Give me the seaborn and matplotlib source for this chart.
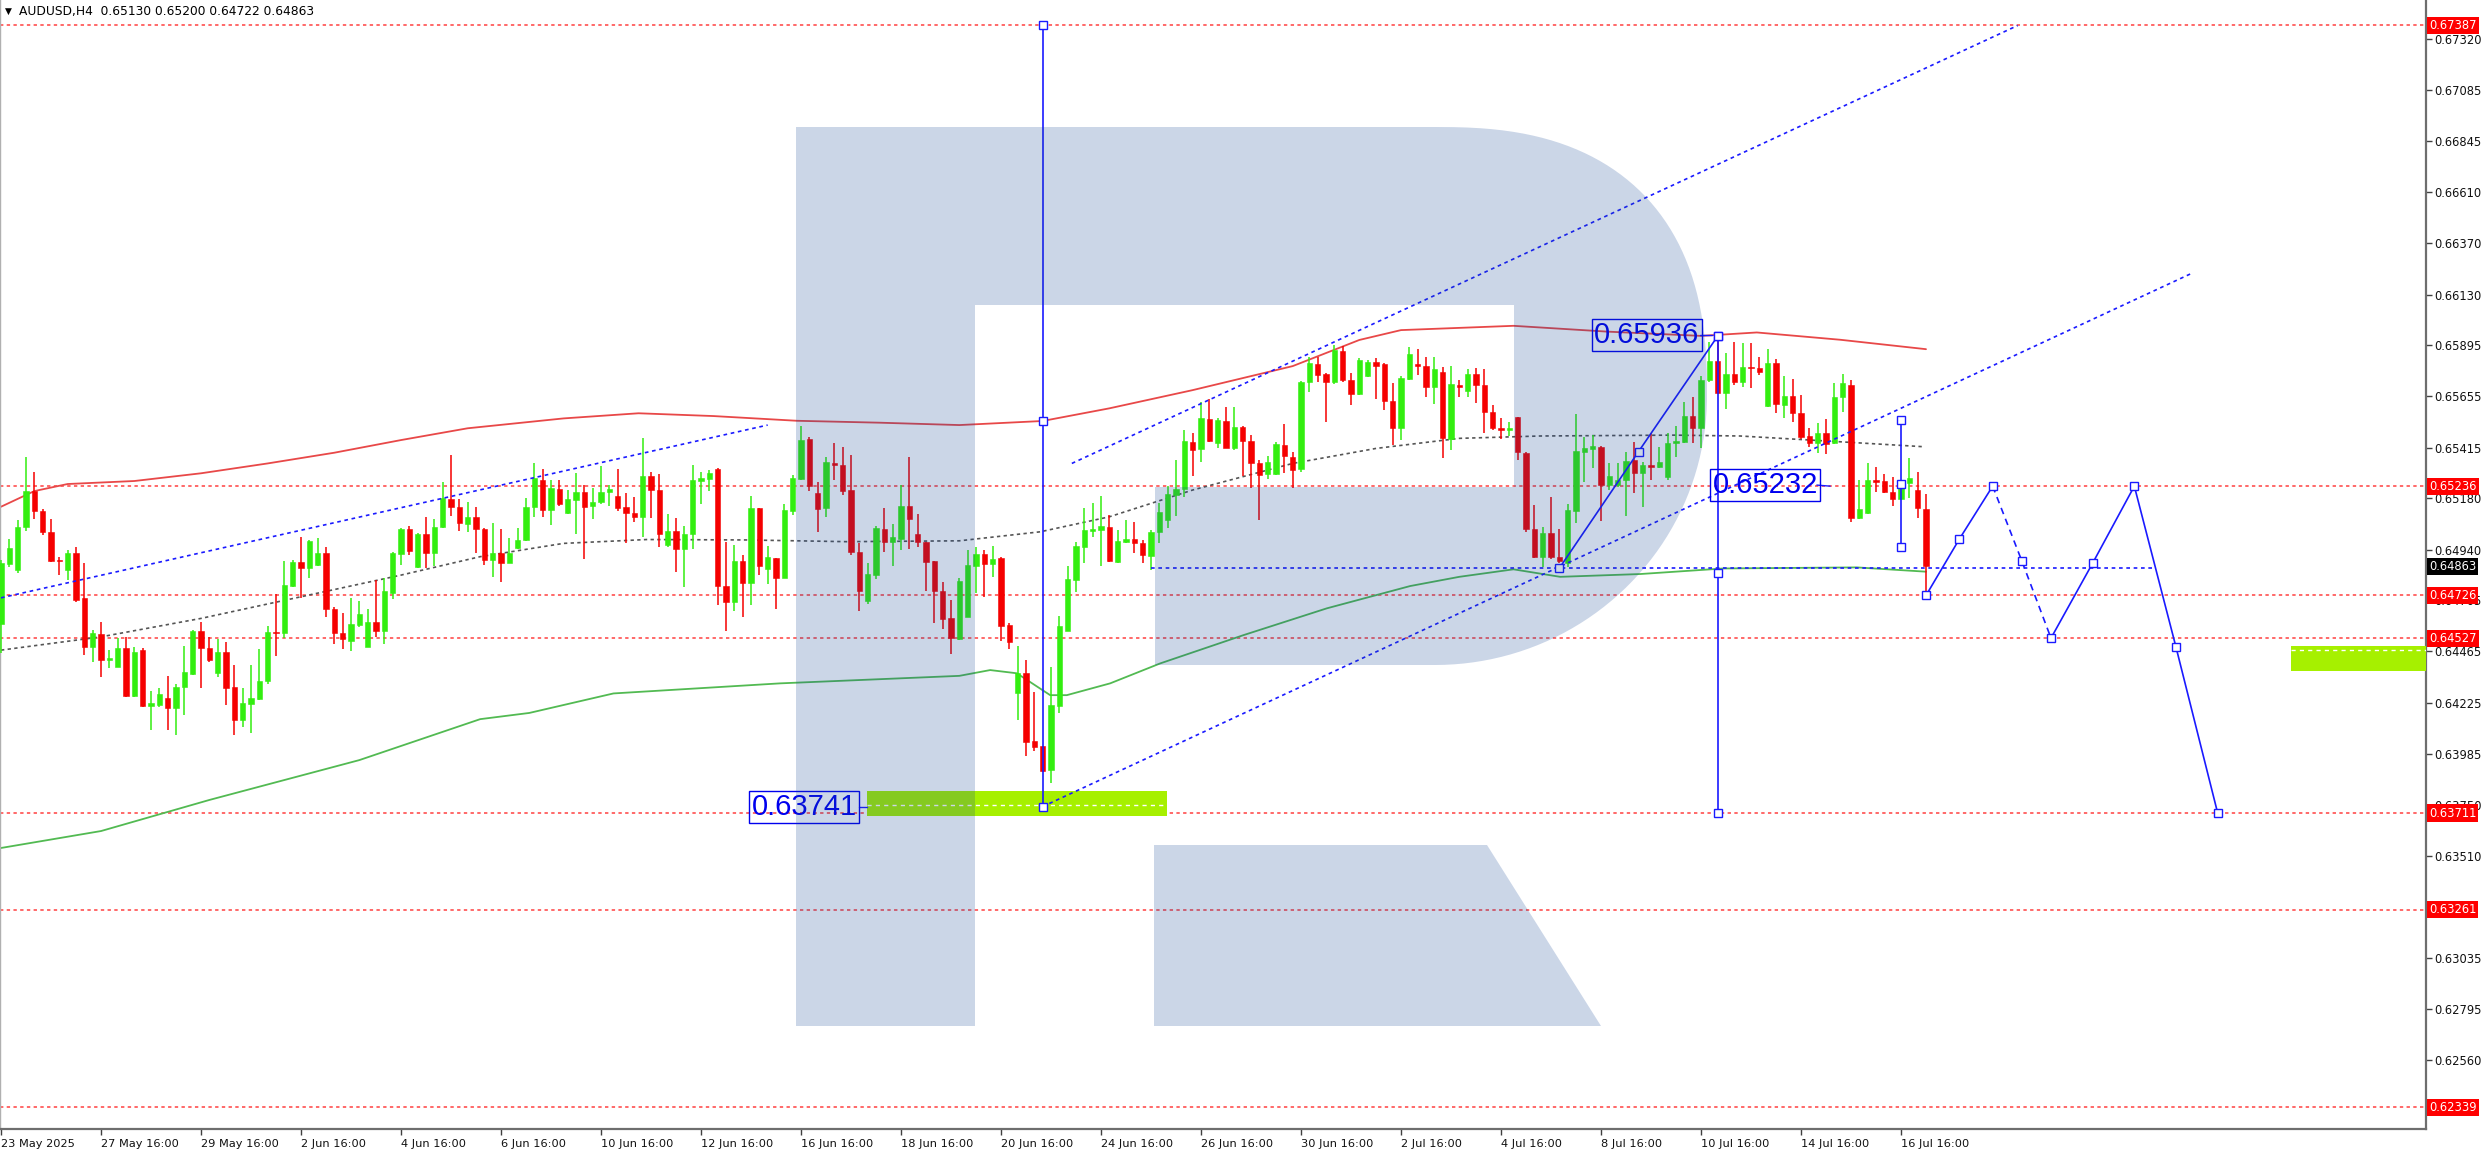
import matplotlib
matplotlib.use("Agg")
import matplotlib.pyplot as plt
import matplotlib.transforms as mtransforms
from matplotlib.patches import Rectangle, Polygon
import numpy as np
import seaborn as sns

# ---------------- data ----------------
symbol = "AUDUSD,H4"
last_ohlc = [0.65130, 0.65200, 0.64722, 0.64863]

opens = [0.64593, 0.64871, 0.64845, 0.65044, 0.65213, 0.65120, 0.65023, 0.64891, 0.64845, 0.64922,
         0.64712, 0.64487, 0.64546, 0.64425, 0.64394, 0.64482, 0.64257, 0.64471, 0.64210, 0.64213,
         0.64246, 0.64199, 0.64297, 0.64359, 0.64560, 0.64482, 0.64363, 0.64461, 0.64300, 0.64145,
         0.64219, 0.64243, 0.64327, 0.64557, 0.64549, 0.64772, 0.64883, 0.64855, 0.64868, 0.64925,
         0.64662, 0.64549, 0.64515, 0.64588, 0.64487, 0.64600, 0.64560, 0.64739, 0.64918, 0.65034,
         0.64860, 0.65013, 0.64925, 0.65047, 0.65174, 0.65140, 0.65058, 0.65093, 0.65034, 0.64891,
         0.64925, 0.64879, 0.64946, 0.64985, 0.65137, 0.65264, 0.65124, 0.65221, 0.65112, 0.65171,
         0.65207, 0.65143, 0.65163, 0.65207, 0.65191, 0.65137, 0.65109, 0.65093, 0.65285, 0.65218,
         0.64961, 0.65028, 0.64941, 0.65011, 0.65260, 0.65269, 0.65316, 0.64770, 0.64697, 0.64887,
         0.64785, 0.65132, 0.64848, 0.64899, 0.64809, 0.65120, 0.65269, 0.65456, 0.65202, 0.65132,
         0.65345, 0.65334, 0.65218, 0.64930, 0.64700, 0.64821, 0.65034, 0.64974, 0.64988, 0.65143,
         0.65013, 0.64974, 0.64887, 0.64747, 0.64619, 0.64523, 0.64627, 0.64865, 0.64918, 0.64871,
         0.64899, 0.64588, 0.64269, 0.64363, 0.64047, 0.64024, 0.63912, 0.64210, 0.64562, 0.64798,
         0.64950, 0.65025, 0.65031, 0.65047, 0.64883, 0.64977, 0.64989, 0.64969, 0.64910, 0.65020,
         0.65078, 0.65195, 0.65221, 0.65440, 0.65408, 0.65547, 0.65439, 0.65540, 0.65415, 0.65510,
         0.65446, 0.65345, 0.65292, 0.65292, 0.65428, 0.65373, 0.65314, 0.65720, 0.65804, 0.65757,
         0.65723, 0.65868, 0.65731, 0.65666, 0.65751, 0.65813, 0.65804, 0.65635, 0.65506, 0.65736,
         0.65806, 0.65798, 0.65697, 0.65770, 0.65454, 0.65708, 0.65681, 0.65759, 0.65708, 0.65580,
         0.65505, 0.65498, 0.65557, 0.65392, 0.65037, 0.64907, 0.65019, 0.64907, 0.64876, 0.65121,
         0.65397, 0.65407, 0.65420, 0.65241, 0.65241, 0.65264, 0.65358, 0.65299, 0.65334, 0.65327,
         0.65280, 0.65435, 0.65443, 0.65563, 0.65509, 0.65731, 0.65820, 0.65669, 0.65759, 0.65723,
         0.65793, 0.65785, 0.65610, 0.65812, 0.65614, 0.65656, 0.65575, 0.65470, 0.65439, 0.65485,
         0.65435, 0.65653, 0.65708, 0.65086, 0.65109, 0.65264, 0.65261, 0.65210, 0.65176, 0.65249,
         0.65218, 0.65130]

highs = [0.64891, 0.64989, 0.65078, 0.65373, 0.65303, 0.65128, 0.65081, 0.64907, 0.64938, 0.64950,
         0.64876, 0.64565, 0.64604, 0.64471, 0.64526, 0.64530, 0.64487, 0.64482, 0.64282, 0.64293,
         0.64350, 0.64313, 0.64492, 0.64565, 0.64602, 0.64534, 0.64521, 0.64507, 0.64401, 0.64293,
         0.64401, 0.64476, 0.64583, 0.64733, 0.64888, 0.64891, 0.64997, 0.64984, 0.64992, 0.64950,
         0.64674, 0.64642, 0.64716, 0.64702, 0.64661, 0.64798, 0.64806, 0.64930, 0.65042, 0.65050,
         0.65016, 0.65093, 0.65083, 0.65257, 0.65381, 0.65174, 0.65163, 0.65137, 0.65039, 0.65062,
         0.65034, 0.64992, 0.65039, 0.65179, 0.65342, 0.65314, 0.65264, 0.65264, 0.65218, 0.65296,
         0.65241, 0.65226, 0.65330, 0.65241, 0.65314, 0.65202, 0.65184, 0.65459, 0.65303, 0.65292,
         0.65106, 0.65086, 0.65050, 0.65334, 0.65303, 0.65311, 0.65323, 0.64974, 0.64961, 0.64914,
         0.65190, 0.65135, 0.64957, 0.64902, 0.65152, 0.65288, 0.65516, 0.65467, 0.65257, 0.65373,
         0.65435, 0.65420, 0.65381, 0.64972, 0.64876, 0.65050, 0.65132, 0.65059, 0.65241, 0.65370,
         0.65106, 0.64977, 0.64888, 0.64790, 0.64705, 0.64806, 0.64938, 0.64953, 0.64938, 0.64957,
         0.64907, 0.64599, 0.64490, 0.64425, 0.64277, 0.64024, 0.64394, 0.64632, 0.64863, 0.64977,
         0.65135, 0.65159, 0.65191, 0.65101, 0.65031, 0.65078, 0.65070, 0.64985, 0.65031, 0.65156,
         0.65236, 0.65358, 0.65498, 0.65482, 0.65630, 0.65641, 0.65552, 0.65607, 0.65607, 0.65516,
         0.65474, 0.65358, 0.65376, 0.65443, 0.65524, 0.65397, 0.65726, 0.65840, 0.65837, 0.65762,
         0.65894, 0.65890, 0.65762, 0.65832, 0.65824, 0.65832, 0.65809, 0.65715, 0.65750, 0.65886,
         0.65874, 0.65840, 0.65840, 0.65793, 0.65796, 0.65731, 0.65781, 0.65785, 0.65781, 0.65614,
         0.65552, 0.65537, 0.65560, 0.65397, 0.65148, 0.65044, 0.65184, 0.65034, 0.65152, 0.65571,
         0.65467, 0.65474, 0.65423, 0.65342, 0.65345, 0.65397, 0.65443, 0.65350, 0.65482, 0.65420,
         0.65482, 0.65516, 0.65630, 0.65653, 0.65750, 0.65910, 0.65936, 0.65855, 0.65910, 0.65902,
         0.65905, 0.65840, 0.65874, 0.65827, 0.65750, 0.65734, 0.65661, 0.65505, 0.65532, 0.65547,
         0.65715, 0.65759, 0.65731, 0.65264, 0.65342, 0.65327, 0.65295, 0.65280, 0.65257, 0.65366,
         0.65303, 0.65200]

lows = [0.64456, 0.64860, 0.64829, 0.65027, 0.65083, 0.65008, 0.64883, 0.64821, 0.64798, 0.64697,
        0.64448, 0.64417, 0.64347, 0.64386, 0.64390, 0.64251, 0.64251, 0.64204, 0.64098, 0.64207,
        0.64098, 0.64075, 0.64168, 0.64355, 0.64296, 0.64417, 0.64347, 0.64215, 0.64075, 0.64111,
        0.64083, 0.64238, 0.64313, 0.64443, 0.64526, 0.64767, 0.64716, 0.64809, 0.64865, 0.64627,
        0.64499, 0.64475, 0.64468, 0.64580, 0.64484, 0.64530, 0.64499, 0.64709, 0.64868, 0.64915,
        0.64852, 0.64852, 0.64863, 0.65042, 0.65098, 0.65027, 0.65023, 0.64922, 0.64868, 0.64813,
        0.64790, 0.64876, 0.64941, 0.64981, 0.65090, 0.65093, 0.65055, 0.65145, 0.65106, 0.65013,
        0.64894, 0.65081, 0.65152, 0.65145, 0.65121, 0.64969, 0.65070, 0.65000, 0.65086, 0.64953,
        0.64953, 0.64834, 0.64767, 0.64941, 0.65155, 0.65215, 0.64681, 0.64561, 0.64655, 0.64624,
        0.64681, 0.64821, 0.64778, 0.64661, 0.64806, 0.65101, 0.65264, 0.65215, 0.65020, 0.65093,
        0.65264, 0.65194, 0.64914, 0.64655, 0.64686, 0.64803, 0.64927, 0.64863, 0.64938, 0.64941,
        0.64953, 0.64748, 0.64599, 0.64568, 0.64453, 0.64518, 0.64624, 0.64736, 0.64720, 0.64810,
        0.64515, 0.64476, 0.64145, 0.63977, 0.64002, 0.63904, 0.63849, 0.64176, 0.64558, 0.64744,
        0.64876, 0.65000, 0.64863, 0.64880, 0.64876, 0.64972, 0.64925, 0.64879, 0.64845, 0.64972,
        0.65039, 0.65098, 0.65187, 0.65283, 0.65350, 0.65443, 0.65412, 0.65412, 0.65404, 0.65285,
        0.65226, 0.65078, 0.65268, 0.65288, 0.65296, 0.65226, 0.65303, 0.65677, 0.65723, 0.65537,
        0.65712, 0.65720, 0.65614, 0.65661, 0.65747, 0.65642, 0.65591, 0.65428, 0.65451, 0.65731,
        0.65754, 0.65653, 0.65619, 0.65366, 0.65404, 0.65653, 0.65653, 0.65625, 0.65482, 0.65498,
        0.65454, 0.65470, 0.65358, 0.65023, 0.64902, 0.64860, 0.64894, 0.64876, 0.64860, 0.65062,
        0.65257, 0.65319, 0.65075, 0.65218, 0.65233, 0.65096, 0.65202, 0.65137, 0.65264, 0.65319,
        0.65264, 0.65373, 0.65435, 0.65438, 0.65415, 0.65723, 0.65666, 0.65594, 0.65708, 0.65697,
        0.65692, 0.65754, 0.65606, 0.65575, 0.65552, 0.65537, 0.65454, 0.65420, 0.65389, 0.65386,
        0.65432, 0.65580, 0.65070, 0.65081, 0.65106, 0.65210, 0.65205, 0.65143, 0.65171, 0.65179,
        0.65086, 0.64722]

closes = [0.64876, 0.64949, 0.65047, 0.65213, 0.65120, 0.65020, 0.64888, 0.64885, 0.64922, 0.64705,
          0.64487, 0.64549, 0.64425, 0.64436, 0.64482, 0.64257, 0.64464, 0.64210, 0.64223, 0.64266,
          0.64199, 0.64300, 0.64367, 0.64560, 0.64482, 0.64425, 0.64461, 0.64296, 0.64145, 0.64223,
          0.64246, 0.64327, 0.64557, 0.64549, 0.64775, 0.64883, 0.64855, 0.64980, 0.64925, 0.64661,
          0.64549, 0.64521, 0.64591, 0.64639, 0.64604, 0.64560, 0.64747, 0.64922, 0.65034, 0.64935,
          0.65013, 0.64925, 0.65047, 0.65179, 0.65140, 0.65062, 0.65093, 0.65034, 0.64891, 0.64925,
          0.64879, 0.64922, 0.64985, 0.65140, 0.65272, 0.65124, 0.65226, 0.65152, 0.65174, 0.65207,
          0.65140, 0.65163, 0.65207, 0.65222, 0.65132, 0.65109, 0.65093, 0.65285, 0.65218, 0.65013,
          0.65028, 0.64943, 0.65011, 0.65264, 0.65275, 0.65296, 0.64770, 0.64697, 0.64887, 0.64785,
          0.65132, 0.64865, 0.64907, 0.64809, 0.65124, 0.65272, 0.65451, 0.65236, 0.65129, 0.65350,
          0.65334, 0.65215, 0.64927, 0.64748, 0.64826, 0.65039, 0.64974, 0.64997, 0.65143, 0.65082,
          0.64974, 0.64883, 0.64748, 0.64616, 0.64526, 0.64795, 0.64868, 0.64918, 0.64871, 0.64894,
          0.64583, 0.64510, 0.64363, 0.64044, 0.64017, 0.63909, 0.64215, 0.64583, 0.64801, 0.64957,
          0.65031, 0.65036, 0.65051, 0.64888, 0.64981, 0.64989, 0.64969, 0.64915, 0.65023, 0.65117,
          0.65199, 0.65221, 0.65446, 0.65404, 0.65552, 0.65448, 0.65544, 0.65415, 0.65510, 0.65448,
          0.65342, 0.65288, 0.65347, 0.65432, 0.65376, 0.65311, 0.65723, 0.65812, 0.65754, 0.65723,
          0.65871, 0.65731, 0.65666, 0.65824, 0.65817, 0.65798, 0.65633, 0.65506, 0.65739, 0.65851,
          0.65796, 0.65697, 0.65781, 0.65459, 0.65712, 0.65700, 0.65759, 0.65708, 0.65580, 0.65505,
          0.65498, 0.65509, 0.65397, 0.65034, 0.64907, 0.65019, 0.64904, 0.64888, 0.65124, 0.65401,
          0.65412, 0.65423, 0.65241, 0.65285, 0.65264, 0.65355, 0.65299, 0.65334, 0.65327, 0.65347,
          0.65435, 0.65448, 0.65563, 0.65509, 0.65731, 0.65820, 0.65669, 0.65759, 0.65723, 0.65790,
          0.65788, 0.65770, 0.65812, 0.65619, 0.65658, 0.65575, 0.65467, 0.65439, 0.65485, 0.65432,
          0.65653, 0.65715, 0.65086, 0.65129, 0.65264, 0.65257, 0.65210, 0.65174, 0.65249, 0.65272,
          0.65132, 0.64863]

x_tick_labels = ["23 May 2025", "27 May 16:00", "29 May 16:00", "2 Jun 16:00", "4 Jun 16:00",
                 "6 Jun 16:00", "10 Jun 16:00", "12 Jun 16:00", "16 Jun 16:00", "18 Jun 16:00",
                 "20 Jun 16:00", "24 Jun 16:00", "26 Jun 16:00", "30 Jun 16:00", "2 Jul 16:00",
                 "4 Jul 16:00", "8 Jul 16:00", "10 Jul 16:00", "14 Jul 16:00", "16 Jul 16:00"]
x_tick_bars = [0, 12, 24, 36, 48, 60, 72, 84, 96, 108, 120, 132, 144, 156, 168, 180, 192, 204, 216, 228]

y_ticks = [0.67320, 0.67085, 0.66845, 0.66610, 0.66370, 0.66130, 0.65895, 0.65655, 0.65415,
           0.65180, 0.64940, 0.64705, 0.64465, 0.64225, 0.63985, 0.63750, 0.63510, 0.63035,
           0.62795, 0.62560]

levels = [0.67387, 0.65236, 0.64726, 0.64527, 0.63711, 0.63261, 0.62339]
current_price = 0.64863

red_ma_bars = [0, 4, 8, 16, 24, 32, 40, 48, 56, 67.5, 76.5, 85.5, 95.5, 105.5, 115, 125, 133,
               143, 155, 163, 168, 172.7, 181.5, 192.7, 204, 210.7, 220.7, 231]
red_ma_vals = [0.65140, 0.65213, 0.65246, 0.65260, 0.65296, 0.65342, 0.65392, 0.65451, 0.65506,
               0.65552, 0.65576, 0.65563, 0.65541, 0.65532, 0.65521, 0.65540, 0.65599, 0.65684,
               0.65796, 0.65918, 0.65964, 0.65971, 0.65984, 0.65957, 0.65937, 0.65953, 0.65919,
               0.65875]

green_ma_bars = [0, 12, 25, 43, 57.5, 63.4, 73.5, 93.5, 115, 118.7, 121.9, 125.9, 127.9, 133.1,
                 139.1, 149.1, 159.1, 169.1, 175, 181.5, 187.1, 196.7, 206.7, 222.7, 231]
green_ma_vals = [0.63548, 0.63627, 0.63772, 0.63958, 0.64149, 0.64178, 0.64269, 0.64316, 0.64351,
                 0.64378, 0.64363, 0.64261, 0.64261, 0.64316, 0.64409, 0.64541, 0.64666, 0.64770,
                 0.64813, 0.64848, 0.64813, 0.64826, 0.64852, 0.64857, 0.64837]

mid_ma_bars = [0, 12, 24, 36, 48, 57.5, 67.5, 77.5, 89.5, 101.5, 115, 124.7, 133, 143, 155, 165,
               175, 184.7, 200.7, 208.7, 220.7, 230.7]
mid_ma_vals = [0.64471, 0.64533, 0.64619, 0.64720, 0.64821, 0.64907, 0.64969, 0.64987, 0.64985,
               0.64977, 0.64981, 0.65023, 0.65093, 0.65218, 0.65342, 0.65412, 0.65459, 0.65470,
               0.65474, 0.65470, 0.65443, 0.65420]

# hand-drawn analysis objects
channel_a_bars, channel_a_vals = [0, 92], [0.64715, 0.65521]
channel_b_bars, channel_b_vals = [128.5, 242], [0.65342, 0.67385]
channel_c_bars, channel_c_vals = [125, 263], [0.63741, 0.66231]
flat_bars, flat_vals = [138, 258.6], [0.64855, 0.64855]
swing_bars, swing_vals = [187, 196.5, 206], [0.64853, 0.65397, 0.65936]
forecast_bars = [231, 235, 239, 242.5, 246, 251, 256, 261, 266]
forecast_vals = [0.64726, 0.64989, 0.65236, 0.64887, 0.64527, 0.64877, 0.65236, 0.64485, 0.63711]
vline1_bar, vline1_vals = 125, [0.67387, 0.65540, 0.63741]
vline2_bar, vline2_vals = 206, [0.65936, 0.64829, 0.63711]
vline3_bar, vline3_vals = 228, [0.65544, 0.65246, 0.64950]

tag_texts = ["0.65936", "0.65232", "0.63741"]
tag_bars = [197.5, 211.7, 96.4]
tag_vals = [0.65941, 0.65241, 0.63739]

zone_bars = [[103.9, 139.9], [274.8, 291.5]]
zone_vals = [[0.63698, 0.63814], [0.64373, 0.64490]]
zone_marks = [0.63750, 0.64470]

# ---------------- style ----------------
sns.set_theme(style="white")
plt.rcParams["font.family"] = ["DejaVu Sans"]

W, H = 2486, 1152
AX_W, AX_H, AX_B = 2426, 1129, 23
fig = plt.figure(figsize=(W / 100, H / 100), dpi=100)
fig.patch.set_facecolor("white")
ax = fig.add_axes([0, AX_B / H, AX_W / W, AX_H / H])
ax.set_facecolor("white")
ax.set_xlim(-0.12, 291.0)
ax.set_ylim(0.62237, 0.67504)

BLUE = "#1a1aff"
BULL = "#33ee10"
BEAR = "#f50000"

# horizontal levels
for lv in levels:
    ax.axhline(lv, color="#ff4040", lw=1.1, ls=(0, (2.2, 2.2)), zorder=1)

# moving averages
sns.lineplot(x=red_ma_bars, y=red_ma_vals, ax=ax, color="#e84848", lw=1.3, zorder=2,
             estimator=None, sort=False)
sns.lineplot(x=green_ma_bars, y=green_ma_vals, ax=ax, color="#52ba52", lw=1.3, zorder=2,
             estimator=None, sort=False)
ax.plot(mid_ma_bars, mid_ma_vals, color="#555555", lw=1.2, ls=(0, (2, 2)), zorder=2)

# candles
o = np.array(opens); h = np.array(highs); l = np.array(lows); c = np.array(closes)
xb = np.arange(len(o))
up = c >= o
cols = np.where(up, BULL, BEAR)
ax.vlines(xb, l, h, colors=cols, lw=1.1, zorder=3)
body_lo = np.minimum(o, c)
body_h = np.maximum(np.abs(c - o), 0.00003)
ax.bar(xb, body_h, bottom=body_lo, width=0.62, color=cols, edgecolor=cols, lw=0.4, zorder=3)

# analysis drawings
dot = (0, (2.2, 2.2))
ax.plot(channel_a_bars, channel_a_vals, color=BLUE, lw=1.2, ls=dot, zorder=4)
ax.plot(channel_b_bars, channel_b_vals, color=BLUE, lw=1.2, ls=dot, zorder=4)
ax.plot(channel_c_bars, channel_c_vals, color=BLUE, lw=1.2, ls=dot, zorder=4)
ax.plot(flat_bars, flat_vals, color=BLUE, lw=1.2, ls=dot, zorder=4)
ax.plot(swing_bars, swing_vals, color=BLUE, lw=1.2, zorder=4)

fb, fv = forecast_bars, forecast_vals
ax.plot(fb[0:3], fv[0:3], color=BLUE, lw=1.2, zorder=4)
ax.plot(fb[2:5], fv[2:5], color=BLUE, lw=1.2, ls=(0, (4, 3)), zorder=4)
ax.plot(fb[4:9], fv[4:9], color=BLUE, lw=1.2, zorder=4)

for vb, vv in [(vline1_bar, vline1_vals), (vline2_bar, vline2_vals), (vline3_bar, vline3_vals)]:
    ax.plot([vb, vb], [max(vv), min(vv)], color=BLUE, lw=1.2, zorder=4)
    ax.plot([vb] * len(vv), vv, ls="none", marker="s", ms=5.5, mfc="white", mec=BLUE, mew=1.0,
            zorder=4.5)

ax.plot(fb, fv, ls="none", marker="s", ms=5.5, mfc="white", mec=BLUE, mew=1.0, zorder=4.5)
ax.plot(swing_bars, swing_vals, ls="none", marker="s", ms=5.5, mfc="white", mec=BLUE, mew=1.0,
        zorder=4.5)

# green zones
for (b0, b1), (v0, v1), mv in zip(zone_bars, zone_vals, zone_marks):
    ax.add_patch(Rectangle((b0, v0), b1 - b0, v1 - v0, facecolor="#a6f000", edgecolor="none",
                           zorder=3.5))
    ax.plot([b0, b1], [mv, mv], color="white", lw=1.0, ls=(0, (3, 3)), zorder=3.6)

# price tags
for t, b, v in zip(tag_texts, tag_bars, tag_vals):
    ax.text(b, v, t, ha="center", va="center", fontsize=21, color="#0000ee",
            family=["Liberation Sans", "DejaVu Sans"], zorder=4.6,
            bbox=dict(boxstyle="square,pad=0.08", fc="none", ec="#0000ee", lw=1.0))
ax.plot([203.9, 205.3], [0.65941, 0.65941], color=BLUE, lw=1.0, zorder=4)
ax.plot([217.9, 219.5], [0.65241, 0.65236], color=BLUE, lw=1.0, zorder=4)
ax.plot([102.9, 103.9], [0.63739, 0.63739], color=BLUE, lw=1.0, zorder=4)

# watermark logo (translucent overlay, placed in axes-pixel layout)
def apx(x, y):
    return (x / AX_W, (AX_H - y) / AX_H)

cx, cy, ra, rb = 1435, 396, 272, 269
pts = [apx(796, 127)]
for t in np.linspace(np.pi / 2, -np.pi / 2, 90):
    n = 2.5 if t > 0 else 2.0
    ct, st = np.cos(t), np.sin(t)
    xx = cx + ra * np.sign(ct) * abs(ct) ** (2 / n)
    yy = cy - rb * np.sign(st) * abs(st) ** (2 / n)
    pts.append(apx(xx, yy))
pts += [apx(1155, 665), apx(1155, 487), apx(1514, 487), apx(1514, 305), apx(975, 305),
        apx(975, 1026), apx(796, 1026)]
ax.add_patch(Polygon(pts, closed=True, transform=ax.transAxes, facecolor="#134596",
                     edgecolor="none", alpha=0.22, zorder=6))
leg = [apx(1154, 845), apx(1487, 845), apx(1601, 1026), apx(1154, 1026)]
ax.add_patch(Polygon(leg, closed=True, transform=ax.transAxes, facecolor="#134596",
                     edgecolor="none", alpha=0.22, zorder=6))

# axes look
ax.spines["top"].set_visible(False)
ax.spines["left"].set_color("#b0b0b0"); ax.spines["left"].set_linewidth(1.0)
ax.spines["right"].set_color("#6e6e6e"); ax.spines["right"].set_linewidth(1.6)
ax.spines["bottom"].set_color("#6e6e6e"); ax.spines["bottom"].set_linewidth(1.6)

ax.yaxis.tick_right()
ax.set_yticks(y_ticks)
ax.set_yticklabels([f"{v:.5f}" for v in y_ticks])
ax.tick_params(axis="y", which="both", right=True, left=False, length=4, width=1,
               color="#404040", pad=2, labelsize=8.3, labelcolor="#111111")
ax.set_xticks(x_tick_bars)
ax.set_xticklabels(x_tick_labels)
ax.tick_params(axis="x", which="both", bottom=True, length=4, width=1, color="#404040", pad=3,
               labelsize=8.2, labelcolor="#111111")
for lbl in ax.get_xticklabels():
    lbl.set_ha("left")
    lbl.set_family(["Liberation Sans Narrow", "DejaVu Sans"])
ax.set_xlabel(""); ax.set_ylabel("")
ax.grid(False)

# coloured price labels on the right scale
trans = mtransforms.blended_transform_factory(ax.transAxes, ax.transData)
for lv in levels:
    ax.text(1.0 + 3 / AX_W, lv, f"{lv:.5f}", transform=trans, ha="left", va="center",
            fontsize=8.3, color="white", clip_on=False, zorder=10,
            bbox=dict(boxstyle="square,pad=0.18", fc="#ff0000", ec="none"))
ax.text(1.0 + 3 / AX_W, current_price, f"{current_price:.5f}", transform=trans, ha="left",
        va="center", fontsize=8.3, color="white", clip_on=False, zorder=10,
        bbox=dict(boxstyle="square,pad=0.18", fc="#000000", ec="none"))

# header
fig.text(5 / W, 1 - 11 / H, "\u25bc", fontsize=6.5, color="black", va="center", ha="left")
fig.text(19 / W, 1 - 11 / H, f"{symbol}  " + " ".join(f"{v:.5f}" for v in last_ohlc),
         fontsize=8.8, color="black", va="center", ha="left")

fig.savefig("out.png", dpi=100, facecolor="white")
